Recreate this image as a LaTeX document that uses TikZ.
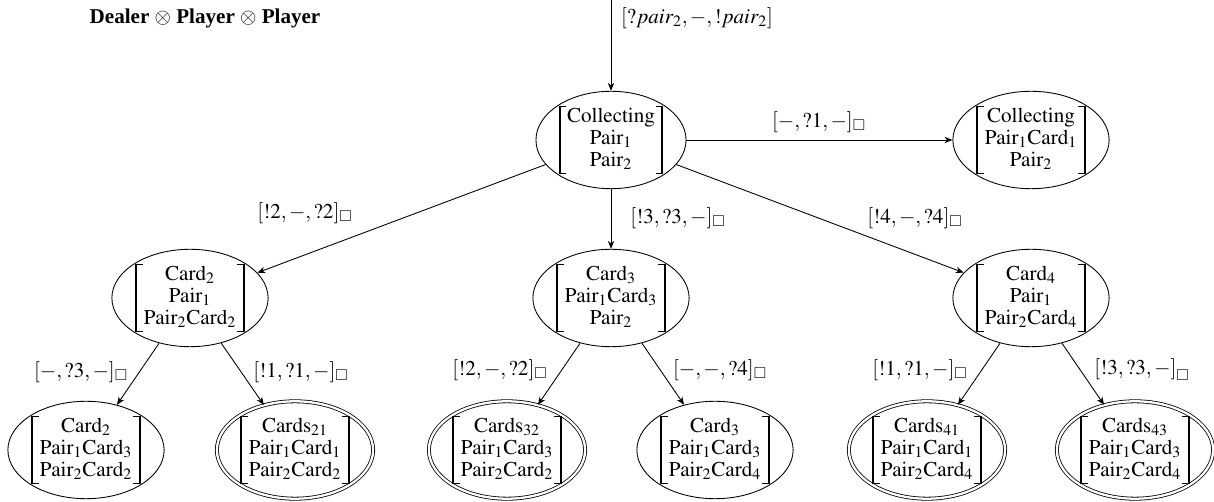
\documentclass[tikz,border=0pt,12pt]{standalone}
\usepackage{amsmath, amssymb}
\usepackage{mathptmx}
\usepackage{fontspec}
\setmainfont{Liberation Serif}
\usepackage{tikz}
\usetikzlibrary{positioning}
\usetikzlibrary{shapes.geometric}
\usetikzlibrary{arrows.meta}
\tikzset{>={Stealth[length=4.5pt,width=3.6pt,inset=1.4pt]}}
\tikzset{
  st/.style={ellipse, draw, line width=0.5pt, inner sep=0.4pt},
  fin/.style={st, double, double distance=1.3pt, line width=0.45pt},
  lbl/.style={inner sep=0pt}
}
% state vector with square brackets built from rules
\newsavebox{\stbox}
\newlength{\brh}
\newcommand{\brkl}{\hbox{\vrule width 1.1pt height\brh depth 0pt%
  \vbox to\brh{\hrule width 3.2pt height 0.6pt\vfil\hrule width 3.2pt height 0.6pt}}}
\newcommand{\brkr}{\hbox{\vbox to\brh{\hrule width 3.2pt height 0.6pt\vfil\hrule width 3.2pt height 0.6pt}%
  \vrule width 1.1pt height\brh depth 0pt}}
\newcommand{\stvec}[3]{%
  \sbox{\stbox}{\renewcommand{\arraystretch}{0.86}%
    $\begin{array}{@{}c@{}}\mathrm{#1}\\\mathrm{#2}\\\mathrm{#3}\end{array}$}%
  \setlength{\brh}{\dimexpr\ht\stbox+\dp\stbox+1pt\relax}%
  \raisebox{-\dimexpr\dp\stbox+0.5pt\relax}{\brkl}\kern0.5pt\usebox{\stbox}\kern0.5pt%
  \raisebox{-\dimexpr\dp\stbox+0.5pt\relax}{\brkr}}

\begin{document}
\begin{tikzpicture}[x=0.02cm,y=-0.02cm]
\useasboundingbox (0,0) rectangle (1214,502);

% ---------------- Title ----------------
\node (title) at (205,18) {\textbf{Dealer} $\otimes$ \textbf{Player} $\otimes$ \textbf{Player}};

% ---------------- States ----------------
\coordinate (in) at (611,0);
\node[st] (root) at (611,140) {\stvec{Collecting}{Pair_1}{Pair_2}};
\node[st] (rt)   at (1031,140) {\stvec{Collecting}{Pair_1Card_1}{Pair_2}};

\node[st] (ml) at (190,298) {\stvec{Card_2}{Pair_1}{Pair_2Card_2}};
\node[st] (mm) at (611,298) {\stvec{Card_3}{Pair_1Card_3}{Pair_2}};
\node[st] (mr) at (1031,298) {\stvec{Card_4}{Pair_1}{Pair_2Card_4}};

\node[st]  (b1) at (86,450)   {\stvec{Card_2}{Pair_1Card_3}{Pair_2Card_2}};
\node[fin] (b2) at (295,450)  {\stvec{Cards_{21}}{Pair_1Card_1}{Pair_2Card_2}};
\node[fin] (b3) at (507,450)  {\stvec{Cards_{32}}{Pair_1Card_3}{Pair_2Card_2}};
\node[st]  (b4) at (715,450)  {\stvec{Card_3}{Pair_1Card_3}{Pair_2Card_4}};
\node[fin] (b5) at (927,450)  {\stvec{Cards_{41}}{Pair_1Card_1}{Pair_2Card_4}};
\node[fin] (b6) at (1135,450) {\stvec{Cards_{43}}{Pair_1Card_3}{Pair_2Card_4}};

% ---------------- Transitions ----------------
\foreach \a/\b in {in/root, root/rt, root/ml, root/mm, root/mr,
                   ml/b1, ml/b2, mm/b3, mm/b4, mr/b5, mr/b6}{
  \draw[->, line width=0.5pt] (\a) -- (\b);
}

% ---------------- Labels ----------------
\node[lbl] (lin) at (697,18) {$[?pair_2,-,!pair_2]$};
\foreach \x/\y/\t in {
  819/122/{[-,?1,-]}, 305/213/{[!2,-,?2]}, 678/218/{[!3,?3,-]},
  915/218/{[!4,-,?4]}, 81/372/{[-,?3,-]}, 301/372/{[!1,?1,-]},
  500/370/{[!2,-,?2]}, 720/370/{[-,-,?4]}, 920/370/{[!1,?1,-]},
  1142/370/{[!3,?3,-]}
}{
  \node[lbl] at (\x,\y) {$\t_\Box$};
}

\end{tikzpicture}
\end{document}
